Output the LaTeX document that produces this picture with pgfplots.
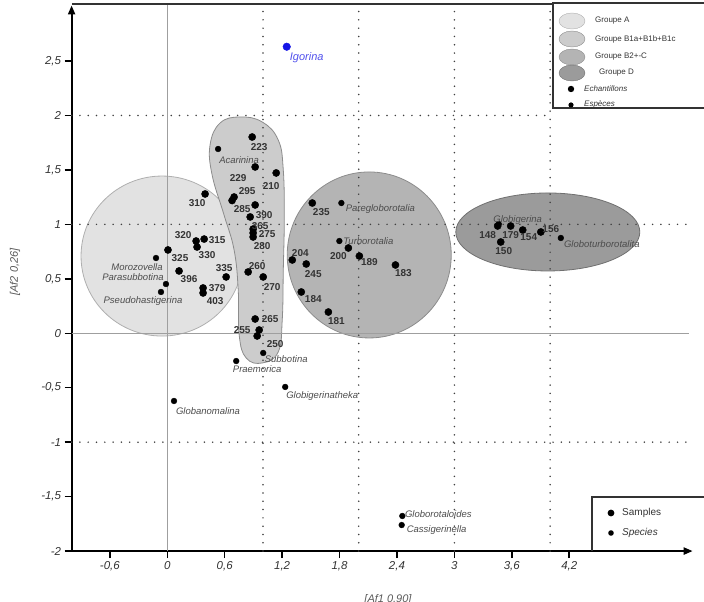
\documentclass[border=0pt]{standalone}
\usepackage{fontspec}
\setmainfont{Liberation Sans}
\setsansfont{Liberation Sans}
\usepackage{pgfplots}
\usepackage{pgfplotstable}
\pgfplotsset{compat=1.18}
\usetikzlibrary{arrows.meta}

\definecolor{grpA}{HTML}{E2E2E2}
\definecolor{grpB}{HTML}{CCCCCC}
\definecolor{grpC}{HTML}{B4B4B4}
\definecolor{grpD}{HTML}{9B9B9B}
\definecolor{edge}{HTML}{8C8C8C}
\definecolor{txt}{HTML}{333333}
\definecolor{blu}{HTML}{1414E6}

% label placed with its centre shifted by (#1 pt, #2 pt) from the point
\newcommand{\lbl}[3]{\makebox[0pt]{\hspace*{#1pt}\hspace*{#1pt}\raisebox{\dimexpr #2pt-3.5pt\relax}[0pt][0pt]{#3}}}

% samples: x y label(with shift)
\pgfplotstableread{
x y lab
0.395 1.279 \lbl{-8}{-9}{310}
0.301 0.847 \lbl{-13}{6}{320}
0.385 0.865 \lbl{13}{-1}{315}
0.311 0.792 \lbl{10}{-8}{330}
0.007 0.765 \lbl{12}{-8}{325}
0.123 0.572 \lbl{10}{-8}{396}
0.615 0.517 \lbl{-2}{9}{335}
0.374 0.416 \lbl{14}{0}{379}
0.374 0.370 \lbl{12}{-8}{403}
0.887 1.802 \lbl{7}{-10}{223}
0.918 1.527 \lbl{-17}{-11}{229}
1.138 1.472 \lbl{-5}{-13}{210}
0.698 1.251 \lbl{13}{6}{295}
0.918 1.178 \lbl{-13}{-4}{285}
0.866 1.068 \lbl{14}{2}{390}
0.897 0.957 \lbl{7}{3}{365}
0.897 0.921 \lbl{14}{-1}{275}
0.897 0.884 \lbl{9}{-9}{280}
0.845 0.563 \lbl{9}{6}{260}
1.002 0.517 \lbl{9}{-10}{270}
0.918 0.131 \lbl{15}{0}{265}
0.960 0.030 \lbl{-17}{0}{255}
0.939 -0.025 \lbl{18}{-8}{250}
1.306 0.673 \lbl{8}{7}{204}
1.452 0.636 \lbl{7}{-10}{245}
1.892 0.783 \lbl{-10}{-8}{200}
2.007 0.709 \lbl{10}{-6}{189}
2.384 0.627 \lbl{8}{-8}{183}
1.515 1.196 \lbl{9}{-9}{235}
1.400 0.379 \lbl{12}{-7}{184}
1.683 0.195 \lbl{8}{-9}{181}
3.452 0.985 \lbl{-10}{-9}{148}
3.588 0.985 \lbl{0}{-9}{179}
3.714 0.948 \lbl{6}{-7}{154}
3.484 0.838 \lbl{3}{-9}{150}
3.903 0.930 \lbl{10}{3}{156}
}\samples

% species
\pgfplotstableread{
x y lab
0.531 1.692 \lbl{21}{-11}{Acarinina}
-0.118 0.691 \lbl{-19}{-9}{Morozovella}
-0.014 0.452 \lbl{-33}{7}{Parasubbotina}
-0.066 0.379 \lbl{-18}{-8}{Pseudohastigerina}
1.002 -0.181 \lbl{23}{-6}{Subbotina}
0.720 -0.255 \lbl{21}{-8}{Praemorica}
1.232 -0.493 \lbl{37}{-8}{Globigerinatheka}
0.070 -0.622 \lbl{34}{-10}{Globanomalina}
1.819 1.196 \lbl{39}{-5}{Paregloborotalia}
1.798 0.847 \lbl{29}{0}{Turborotalia}
3.463 1.003 \lbl{19}{5}{Globigerina}
4.112 0.875 \lbl{41}{-6}{Globoturborotalita}
2.456 -1.678 \lbl{36}{2}{Globorotaloides}
2.449 -1.761 \lbl{35}{-4}{Cassigerinella}
}\species

\begin{document}
\begin{tikzpicture}
\begin{axis}[
  x=95.7pt, y=108.9pt,
  xmin=-1, xmax=5.49, ymin=-2, ymax=3.01,
  axis x line*=bottom, axis y line*=left,
  axis line style={line width=2pt, -{Triangle[length=9pt,width=7pt]}},
  xtick={-0.6,0,0.6,1.2,1.8,2.4,3,3.6,4.2},
  ytick={-2,-1.5,-1,-0.5,0,0.5,1,1.5,2,2.5},
  tick align=outside,
  major tick length=7pt,
  tick style={line width=1.5pt, black},
  /pgf/number format/use comma,
  /pgf/number format/assume math mode=true,
  tick label style={font=\fontsize{11.5}{13}\selectfont\itshape, text=txt},
  clip=false,
]
% group areas
\draw[fill=grpA, draw=edge!70, line width=0.8pt] (axis cs:-0.055,0.709) ellipse [x radius=81pt, y radius=80pt];
\draw[fill=grpB, draw=edge, line width=0.8pt] plot[smooth cycle, tension=0.7] coordinates {
 (axis cs:0.761,1.986) (axis cs:0.992,1.940) (axis cs:1.159,1.775) (axis cs:1.212,1.499)
 (axis cs:1.222,1.040) (axis cs:1.212,0.581) (axis cs:1.201,0.122) (axis cs:1.159,-0.172)
 (axis cs:0.992,-0.273) (axis cs:0.824,-0.227) (axis cs:0.751,-0.016) (axis cs:0.741,0.397)
 (axis cs:0.698,0.765) (axis cs:0.593,1.086) (axis cs:0.468,1.454) (axis cs:0.447,1.730)
 (axis cs:0.552,1.931)};
\draw[fill=grpC, draw=edge, line width=0.8pt] (axis cs:2.11,0.719) ellipse [x radius=82pt, y radius=83pt];
\draw[fill=grpD, draw=edge!80!black, line width=0.8pt] (axis cs:3.976,0.930) ellipse [x radius=92pt, y radius=39pt];
% reference lines
\draw[gray!75, line width=1.5pt] (axis cs:0,-2) -- (axis cs:0,3.01);
\draw[gray!75, line width=1.5pt] (axis cs:-1,0) -- (axis cs:5.45,0);
\draw[black!75, line width=1.7pt, dash pattern=on 0pt off 8.3pt, line cap=round] (axis cs:1,-2) -- (axis cs:1,3.01);
\draw[black!75, line width=1.7pt, dash pattern=on 0pt off 8.3pt, line cap=round] (axis cs:2,-2) -- (axis cs:2,3.01);
\draw[black!75, line width=1.7pt, dash pattern=on 0pt off 8.3pt, line cap=round] (axis cs:3,-2) -- (axis cs:3,3.01);
\draw[black!75, line width=1.7pt, dash pattern=on 0pt off 8.3pt, line cap=round] (axis cs:4,-2) -- (axis cs:4,3.01);
\draw[black!75, line width=1.7pt, dash pattern=on 0pt off 8.3pt, line cap=round] (axis cs:-1,2) -- (axis cs:4.03,2);
\draw[black!75, line width=1.7pt, dash pattern=on 0pt off 8.3pt, line cap=round] (axis cs:-1,1) -- (axis cs:5.45,1);
\draw[black!75, line width=1.7pt, dash pattern=on 0pt off 8.3pt, line cap=round] (axis cs:-1,-1) -- (axis cs:5.45,-1);
% samples
\addplot[only marks, mark=*, mark size=3.6pt, black,
  point meta=explicit symbolic, nodes near coords,
  nodes near coords style={anchor=center, inner sep=0pt,
    font=\fontsize{10}{11}\selectfont\bfseries, text=txt}]
  table[x=x, y=y, meta=lab] {\samples};
\addplot[only marks, mark=*, mark size=3.6pt, black] coordinates {(0.677,1.219)};
% species
\addplot[only marks, mark=*, mark size=2.9pt, black,
  point meta=explicit symbolic, nodes near coords,
  nodes near coords style={anchor=center, inner sep=0pt,
    font=\fontsize{9.5}{11}\selectfont\itshape, text=black!70}]
  table[x=x, y=y, meta=lab] {\species};
% Igorina
\addplot[only marks, mark=*, mark size=3.8pt, blu,
  nodes near coords={\lbl{20}{-10}{Igorina}},
  nodes near coords style={anchor=center, inner sep=0pt,
    font=\fontsize{11}{12}\selectfont\itshape, text=blu!75}]
  coordinates {(1.248,2.631)};
\coordinate (P) at (axis cs:-1.7482,3.0602);
\end{axis}

\begin{scope}[shift={(P)}, x=1pt, y=-1pt]
 % top legend
 \draw[line width=1.3pt, black!80] (704,3) -- (553,3) -- (553,108) -- (704,108);
 \draw[fill=grpA, draw=edge!70] (572,21) ellipse [x radius=13pt, y radius=8pt];
 \draw[fill=grpB, draw=edge] (572,39) ellipse [x radius=13pt, y radius=8pt];
 \draw[fill=grpC, draw=edge] (572,57) ellipse [x radius=13pt, y radius=8pt];
 \draw[fill=grpD, draw=edge!80!black] (572,73) ellipse [x radius=13pt, y radius=8pt];
 \fill[black] (571,89) circle (3.2pt);
 \fill[black] (571,105) circle (2.6pt);
 \begin{scope}[every node/.style={anchor=west, inner sep=0pt, text=txt, font=\fontsize{8}{9}\selectfont}]
  \node at (595,21) {Groupe A};
  \node at (595,39) {Groupe B1a+B1b+B1c};
  \node at (595,57) {Groupe B2+-C};
  \node at (599,73) {Groupe D};
  \node[font=\fontsize{8}{9}\selectfont\itshape] at (584,89) {Echantillons};
  \node[font=\fontsize{8}{9}\selectfont\itshape] at (584,104) {Espèces};
 \end{scope}
 % bottom legend
 \draw[line width=1.3pt, black!80] (592,551) -- (592,497) -- (704,497);
 \fill[black] (611,513) circle (3.4pt);
 \fill[black] (611,533) circle (2.8pt);
 \node[anchor=west, inner sep=0pt, text=txt, font=\fontsize{10}{11}\selectfont] at (622,513) {Samples};
 \node[anchor=west, inner sep=0pt, text=txt, font=\fontsize{10}{11}\selectfont\itshape] at (622,533) {Species};
 % top frame line
 \draw[line width=1.3pt, black!80] (72,4) -- (553,4);
 % axis labels
 \node[rotate=90, text=black!65, font=\fontsize{11}{12}\selectfont\itshape] at (15,272) {[Af2 0,26]};
 \node[text=black!65, font=\fontsize{11}{12}\selectfont\itshape] at (388,600) {[Af1 0,90]};
\end{scope}
\pgfresetboundingbox
\path[use as bounding box, shift={(P)}, x=1pt, y=-1pt] (0,0) rectangle (704,602);
\end{tikzpicture}
\end{document}
